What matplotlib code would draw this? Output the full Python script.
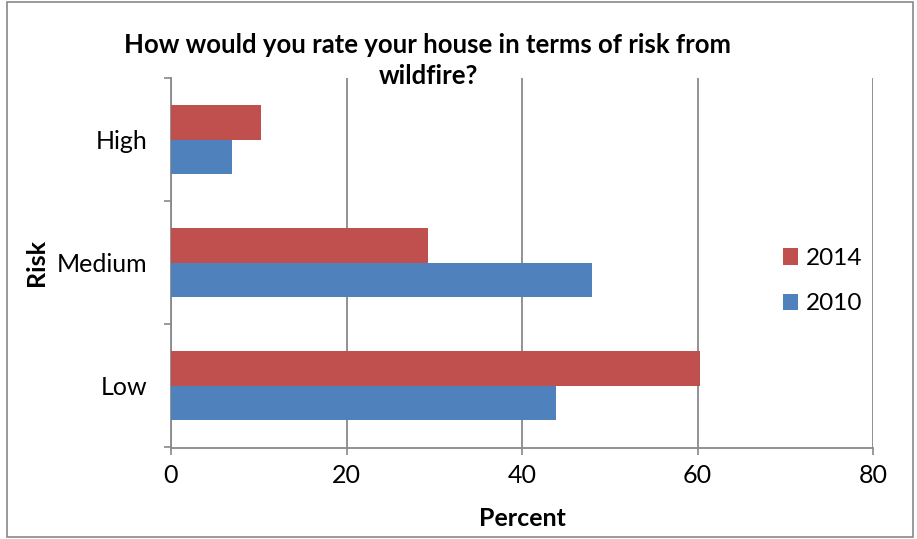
import matplotlib
matplotlib.use("Agg")
import matplotlib.pyplot as plt
from matplotlib.patches import Rectangle
import numpy as np

plt.rcParams['font.family'] = ['Lato', 'DejaVu Sans']

categories = ['Low', 'Medium', 'High']
values_2014 = [60.3, 29.3, 10.3]
values_2010 = [43.9, 48.0, 7.0]
x_ticks = [0, 20, 40, 60, 80]

red = '#C0504D'
blue = '#4F81BD'
grey = '#898989'

fig = plt.figure(figsize=(9.17, 5.39), dpi=100)
ax = fig.add_axes([171 / 917, 1 - 447.5 / 539, 702 / 917, 369.5 / 539])

y = np.arange(len(categories))
h = 0.28
ax.barh(y + h / 2, values_2014, height=h, color=red, label='2014', zorder=3)
ax.barh(y - h / 2, values_2010, height=h, color=blue, label='2010', zorder=3)

ax.set_xlim(0, 80)
ax.set_ylim(-0.5, len(categories) - 0.5)
ax.set_xticks(x_ticks)
ax.set_xticklabels([str(t) for t in x_ticks], fontsize=18)
ax.set_yticks(y)
ax.set_yticklabels(categories, fontsize=18)
ax.set_yticks(np.arange(-0.5, len(categories)), minor=True)
ax.tick_params(axis='y', which='major', length=0, pad=17)
ax.tick_params(axis='y', which='minor', length=5, color=grey, width=1.2)
ax.tick_params(axis='x', length=5, color=grey, width=1.2, pad=7)

ax.grid(axis='x', color=grey, linewidth=1.3, zorder=0)
for s in ['top', 'right']:
    ax.spines[s].set_visible(False)
for s in ['left', 'bottom']:
    ax.spines[s].set_color(grey)
    ax.spines[s].set_linewidth(1.3)

ax.set_xlabel('Percent', fontsize=18, fontweight='bold', labelpad=14)
ax.set_ylabel('Risk', fontsize=18, fontweight='bold', labelpad=6)

fig.text(428 / 917, 1 - 45 / 539, 'How would you rate your house in terms of risk from',
         ha='center', va='center', fontsize=18.5, fontweight='bold')
fig.text(428 / 917, 1 - 76 / 539, 'wildfire?',
         ha='center', va='center', fontsize=18.5, fontweight='bold')

handles, labels = ax.get_legend_handles_labels()
ax.legend(handles, labels, loc='center left', bbox_to_anchor=(0.84, 0.45),
          frameon=False, fontsize=17.5, handlelength=0.65, handleheight=0.65,
          handletextpad=0.3, labelspacing=1.0)

fig.patches.append(Rectangle((7 / 917, 2 / 539), 906 / 917, 535 / 539,
                             transform=fig.transFigure, fill=False,
                             edgecolor=grey, linewidth=1.2))

fig.savefig('out.png', dpi=100)
